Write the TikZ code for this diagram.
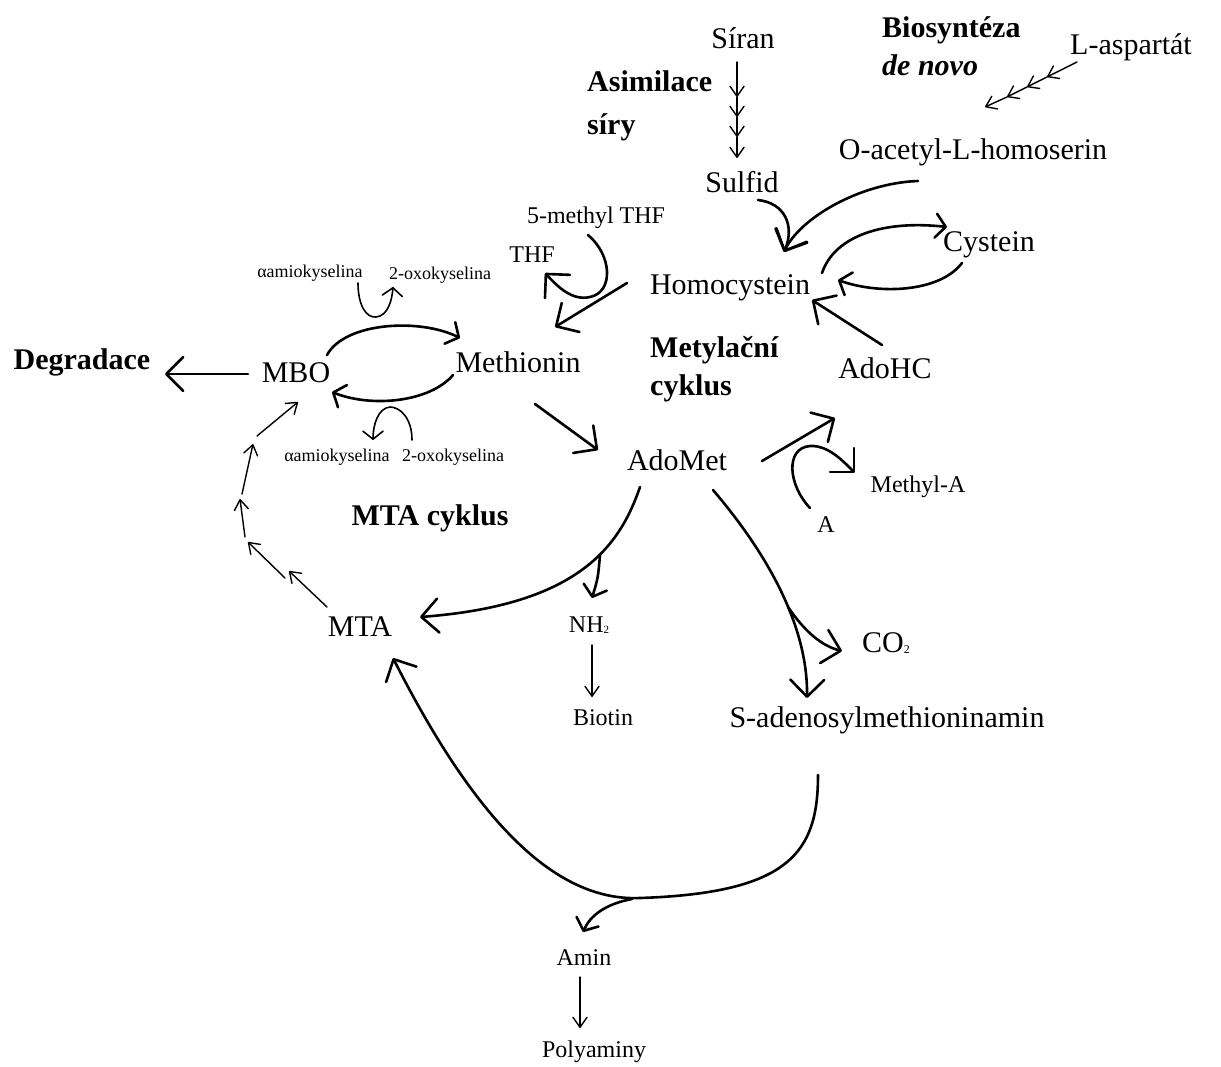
\documentclass[tikz,border=0pt]{standalone}
\usepackage{fontspec}
\setmainfont{Liberation Serif}
\usetikzlibrary{arrows.meta}
\begin{document}
\begin{tikzpicture}[x=1pt,y=-1pt,
  lbl/.style={font=\fontsize{30}{36}\selectfont, inner sep=0pt},
  sml/.style={font=\fontsize{24}{28}\selectfont, inner sep=0pt},
  xs/.style={font=\fontsize{18}{22}\selectfont, inner sep=0pt},
  bld/.style={font=\fontsize{30}{38}\selectfont\bfseries, inner sep=0pt, align=left},
  bigarr/.style={line width=2.6pt, line cap=round, -{Straight Barb[length=17pt,width=34pt,round]}},
  midarr/.style={line width=2.6pt, line cap=round, -{Straight Barb[length=10pt,width=24pt,round]}},
  thinarr/.style={line width=1.4pt, line cap=round, -{Straight Barb[length=10pt,width=14pt,round]}},
  curlarr/.style={line width=1.6pt, line cap=round, -{Straight Barb[length=8pt,width=20pt,round]}}]
\useasboundingbox (0,0) rectangle (1221,1066);

% ---- nodes
\node[lbl] (siran) at (743,38) {Síran};
\node[bld, font=\fontsize{30}{43}\selectfont\bfseries, anchor=west] (asim) at (587,106) {Asimilace\\síry};
\node[bld, anchor=west] (bio) at (882,46) {Biosyntéza\\\textit{de novo}};
\node[lbl] (asp) at (1131,47) {L-aspartát};
\node[lbl] (sulfid) at (742,182) {Sulfid};
\node[lbl] (oacetyl) at (973,152) {O-acetyl-L-homoserin};
\node[lbl] (homo) at (730,288) {Homocystein};
\node[lbl] (cys) at (989,245) {Cystein};
\node[lbl] (adohc) at (885,368) {AdoHC};
\node[sml] (mthf) at (596,218) {5-methyl THF};
\node[sml] (thf) at (532,255) {THF};
\node[lbl] (met) at (518,362) {Methionin};
\node[bld, anchor=west] (metcyc) at (650,369) {Metylační\\cyklus};
\node[lbl] (mbo) at (296,373) {MBO};
\node[bld] (degr) at (82,362) {Degradace};
\node[xs] (aa1) at (310,273) {αamiokyselina};
\node[xs] (ox1) at (440,275) {2-oxokyselina};
\node[xs] (aa2) at (337,457) {αamiokyselina};
\node[xs] (ox2) at (453,457) {2-oxokyselina};
\node[lbl] (adomet) at (677,460) {AdoMet};
\node[sml] (methyla) at (918,487) {Methyl-A};
\node[sml] (a) at (826,525) {A};
\node[bld] (mtacyc) at (430,518) {MTA cyklus};
\node[lbl] (mta) at (360,627) {MTA};
\node[sml] (nh2) at (589,625) {NH\raisebox{-0.5pt}{\fontsize{11}{11}\selectfont 2}};
\node[sml] (biotin) at (603,718) {Biotin};
\node[lbl] (co2) at (886,643) {CO\raisebox{-0.5pt}{\fontsize{12}{12}\selectfont 2}};
\node[lbl] (sam) at (887,720) {S-adenosylmethioninamin};
\node[sml] (amin) at (584,958) {Amin};
\node[sml] (poly) at (594,1052) {Polyaminy};

% ---- connector end points
\coordinate (sA) at (737,62);  \coordinate (sB) at (737,97);
\coordinate (sC) at (737,117); \coordinate (sD) at (737,137);
\coordinate (sE) at (737,158);
\coordinate (aA) at (1077,62); \coordinate (aB) at (1047,77);
\coordinate (aC) at (1027,87); \coordinate (aD) at (1007,97);
\coordinate (aE) at (985,107);
\coordinate (sulOut) at (758,200);
\coordinate (oaOut) at (918,181);
\coordinate (homoTop) at (784,252);
\coordinate (homoR1) at (822,273);
\coordinate (cysIn) at (947,227);
\coordinate (cysOut) at (962,263);
\coordinate (homoR2) at (838,280);
\coordinate (adohcOut) at (882,345);
\coordinate (homoR3) at (812,300);
\coordinate (mthfOut) at (588,235);
\coordinate (thfIn) at (545,273);
\coordinate (homoL) at (627,283);
\coordinate (metIn) at (555,327);
\coordinate (mboR1) at (327,355);
\coordinate (metL1) at (460,338);
\coordinate (metL2) at (453,375);
\coordinate (mboR2) at (332,392);
\coordinate (aa1Out) at (358,283);
\coordinate (ox1In) at (393,287);
\coordinate (ox2Out) at (412,440);
\coordinate (aa2In) at (373,440);
\coordinate (mboL) at (248,374);
\coordinate (degrIn) at (165,374);
\coordinate (metOut) at (535,404);
\coordinate (adometIn) at (598,450);
\coordinate (adometR) at (762,461);
\coordinate (adohcIn) at (835,418);
\coordinate (aOut) at (810,508);
\coordinate (methylaIn) at (855,473);
\coordinate (adometB1) at (640,487);
\coordinate (mtaIn1) at (420,617);
\coordinate (nhFork) at (600,555);
\coordinate (nh2In) at (592,598);
\coordinate (nh2Out) at (592,645);
\coordinate (biotinIn) at (592,697);
\coordinate (adometB2) at (713,490);
\coordinate (samIn) at (807,698);
\coordinate (coFork) at (788,607);
\coordinate (co2In) at (842,651);
\coordinate (samOut) at (818,775);
\coordinate (bottom) at (640,898);
\coordinate (mtaIn2) at (393,658);
\coordinate (aminFork) at (632,899);
\coordinate (aminIn) at (583,932);
\coordinate (aminOut) at (580,977);
\coordinate (polyIn) at (580,1028);
\coordinate (cA) at (327,607); \coordinate (cB) at (289,571);
\coordinate (cC) at (285,578); \coordinate (cD) at (248,542);
\coordinate (cE) at (245,537); \coordinate (cF) at (240,499);
\coordinate (cG) at (242,494); \coordinate (cH) at (253,444);
\coordinate (cI) at (257,436); \coordinate (cJ) at (298,402);

% ---- Sulfate assimilation
\draw[thinarr] (sA) -- (sB);
\draw[thinarr] (sB) -- (sC);
\draw[thinarr] (sC) -- (sD);
\draw[thinarr] (sD) -- (sE);
% ---- de novo
\draw[thinarr] (aA) -- (aB);
\draw[thinarr] (aB) -- (aC);
\draw[thinarr] (aC) -- (aD);
\draw[thinarr] (aD) -- (aE);

% ---- Homocysteine
\draw[bigarr] (sulOut) .. controls (785,203) and (795,226) .. (homoTop);
\draw[bigarr] (oaOut) .. controls (860,183) and (800,218) .. (homoTop);
\draw[midarr] (homoR1) .. controls (835,235) and (885,220) .. (cysIn);
\draw[midarr] (cysOut) .. controls (940,292) and (880,295) .. (homoR2);
\draw[bigarr] (adohcOut) -- (homoR3);
\draw[bigarr] (mthfOut) .. controls (612,255) and (614,292) .. (590,297)
                        .. controls (572,301) and (558,287) .. (thfIn);
\draw[bigarr] (homoL) -- (metIn);

% ---- MBO / Methionin
\draw[midarr] (mboR1) .. controls (345,322) and (420,318) .. (metL1);
\draw[midarr] (metL2) .. controls (430,402) and (372,408) .. (mboR2);
\draw[curlarr] (aa1Out) .. controls (358,305) and (366,318) .. (376,317)
                        .. controls (388,316) and (392,300) .. (ox1In);
\draw[curlarr] (ox2Out) .. controls (412,418) and (400,407) .. (390,407)
                        .. controls (378,408) and (373,425) .. (aa2In);
\draw[bigarr] (mboL) -- (degrIn);
\draw[bigarr] (metOut) -- (adometIn);

% ---- AdoMet
\draw[bigarr] (adometR) -- (adohcIn);
\draw[bigarr] (aOut) .. controls (788,485) and (785,448) .. (810,446)
                     .. controls (828,445) and (843,461) .. (methylaIn);
\draw[bigarr] (adometB1) .. controls (620,545) and (580,605) .. (mtaIn1);
\draw[midarr] (nhFork) .. controls (598,578) .. (nh2In);
\draw[thinarr] (nh2Out) -- (biotinIn);
\draw[bigarr] (adometB2) .. controls (760,545) and (808,620) .. (samIn);
\draw[bigarr] (coFork) .. controls (805,632) and (822,646) .. (co2In);

% ---- polyamines
\draw[bigarr] (samOut) .. controls (818,852) and (790,893) .. (bottom)
                       .. controls (550,902) and (470,810) .. (mtaIn2);
\draw[midarr] (aminFork) .. controls (605,904) and (590,916) .. (aminIn);
\draw[thinarr] (aminOut) -- (polyIn);

% ---- MTA cycle
\draw[thinarr] (cA) -- (cB);
\draw[thinarr] (cC) -- (cD);
\draw[thinarr] (cE) -- (cF);
\draw[thinarr] (cG) -- (cH);
\draw[thinarr] (cI) -- (cJ);
\end{tikzpicture}
\end{document}
